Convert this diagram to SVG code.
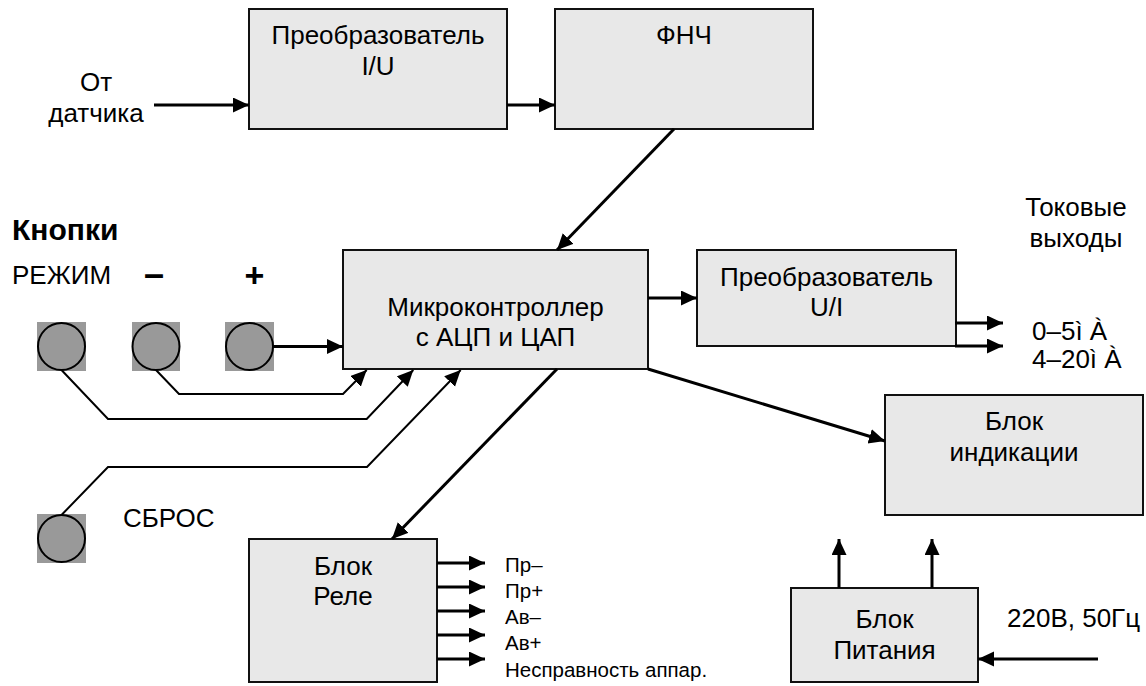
<svg xmlns="http://www.w3.org/2000/svg" width="1146" height="686" viewBox="0 0 1146 686">
<style>
text{font-family:"Liberation Sans",Arial,sans-serif;font-size:26px;fill:#000}
.c{text-anchor:middle}
.s{font-size:20.5px}
.box{fill:#e8e8e8;stroke:#111;stroke-width:2}
.a{stroke:#000;stroke-width:3;fill:none}
.w{stroke:#000;stroke-width:2;fill:none}
.btn rect{fill:#999}
.btn circle{fill:#999;stroke:#000;stroke-width:2}
</style>
<defs>
<marker id="ah" markerUnits="userSpaceOnUse" markerWidth="17" markerHeight="16" refX="16" refY="7.5" orient="auto">
<path d="M0,0 L16,7.5 L0,15 z" fill="#000"/>
</marker>
</defs>
<rect width="1146" height="686" fill="#fff"/>
<g id="conv-iu"><rect class="box" x="249" y="9" width="258" height="120"/><text class="c" x="378" y="44">Преобразователь</text><text class="c" x="378" y="75">I/U</text></g>
<g id="fnch"><rect class="box" x="555" y="9" width="258" height="120"/><text class="c" x="684" y="44">ФНЧ</text></g>
<g id="mcu"><rect class="box" x="343" y="250" width="305" height="119"/><text class="c" x="495.5" y="316">Микроконтроллер</text><text class="c" x="495.5" y="346">с АЦП и ЦАП</text></g>
<g id="conv-ui"><rect class="box" x="697" y="250" width="259" height="96"/><text class="c" x="826.5" y="286">Преобразователь</text><text class="c" x="826.5" y="316">U/I</text></g>
<g id="ind"><rect class="box" x="885" y="395" width="258" height="120"/><text class="c" x="1014" y="430">Блок</text><text class="c" x="1014" y="461">индикации</text></g>
<g id="rele"><rect class="box" x="249" y="539" width="188" height="143"/><text class="c" x="343" y="575">Блок</text><text class="c" x="343" y="605">Реле</text></g>
<g id="power"><rect class="box" x="791" y="588" width="187" height="94"/><text class="c" x="884.5" y="628">Блок</text><text class="c" x="884.5" y="659">Питания</text></g>
<g id="btn-mode" class="btn"><rect x="37" y="322" width="49" height="49"/><circle cx="61.5" cy="346.5" r="23.5"/></g>
<g id="btn-minus" class="btn"><rect x="132" y="322" width="48" height="49"/><circle cx="156" cy="346.5" r="23.5"/></g>
<g id="btn-plus" class="btn"><rect x="225" y="322" width="49" height="49"/><circle cx="249.5" cy="346.5" r="23.5"/></g>
<g id="btn-reset" class="btn"><rect x="37" y="514" width="49" height="49"/><circle cx="61.5" cy="538.5" r="23.5"/></g>
<g id="labels">
<text class="c" x="96" y="91">От</text><text class="c" x="96" y="122">датчика</text>
<text x="12" y="240" style="font-weight:bold;font-size:30px">Кнопки</text>
<text x="12" y="284">РЕЖИМ</text>
<text class="c" x="154" y="286" style="font-weight:bold;font-size:36px">–</text>
<text class="c" x="254.5" y="287" style="font-weight:bold;font-size:34px">+</text>
<text x="123" y="527">СБРОС</text>
<text class="c" x="1076" y="216">Токовые</text><text class="c" x="1076" y="247">выходы</text>
<text x="1032" y="340">0–5ì À</text><text x="1032" y="368">4–20ì À</text>
<text x="1007" y="627">220В, 50Гц</text>
<text class="s" x="505" y="572">Пр–</text>
<text class="s" x="505" y="598">Пр+</text>
<text class="s" x="505" y="624">Ав–</text>
<text class="s" x="505" y="650">Ав+</text>
<text class="s" x="505" y="677">Несправность аппар.</text>
</g>
<g id="connectors">
<line class="a" x1="154" y1="105" x2="249" y2="105" marker-end="url(#ah)"/>
<line class="a" x1="507" y1="105" x2="555" y2="105" marker-end="url(#ah)"/>
<line class="a" x1="674" y1="129" x2="557" y2="250" marker-end="url(#ah)"/>
<line class="a" x1="648" y1="298" x2="697" y2="298" marker-end="url(#ah)"/>
<line class="a" x1="955" y1="323" x2="1003" y2="323" marker-end="url(#ah)"/>
<line class="a" x1="955" y1="346" x2="1003" y2="346" marker-end="url(#ah)"/>
<line class="a" x1="648" y1="369" x2="885" y2="441" marker-end="url(#ah)"/>
<line class="a" x1="557" y1="369" x2="392" y2="539" marker-end="url(#ah)"/>
<line class="a" x1="839" y1="588" x2="839" y2="539" marker-end="url(#ah)"/>
<line class="a" x1="932" y1="588" x2="932" y2="539" marker-end="url(#ah)"/>
<line class="a" x1="1098" y1="659" x2="978" y2="659" marker-end="url(#ah)"/>
<line class="a" x1="437" y1="563" x2="485" y2="563" marker-end="url(#ah)"/>
<line class="a" x1="437" y1="587" x2="485" y2="587" marker-end="url(#ah)"/>
<line class="a" x1="437" y1="611" x2="485" y2="611" marker-end="url(#ah)"/>
<line class="a" x1="437" y1="635" x2="485" y2="635" marker-end="url(#ah)"/>
<line class="a" x1="437" y1="659" x2="485" y2="659" marker-end="url(#ah)"/>
<line class="a" x1="273" y1="346.5" x2="343" y2="346.5" marker-end="url(#ah)"/>
<polyline class="w" points="61.5,370 108,419 366.7,419 413.3,370" marker-end="url(#ah)"/>
<polyline class="w" points="156,370 179,394 343,394 366.7,370" marker-end="url(#ah)"/>
<polyline class="w" points="61.5,515 108,467 367,467 460.7,370" marker-end="url(#ah)"/>
</g>
</svg>
